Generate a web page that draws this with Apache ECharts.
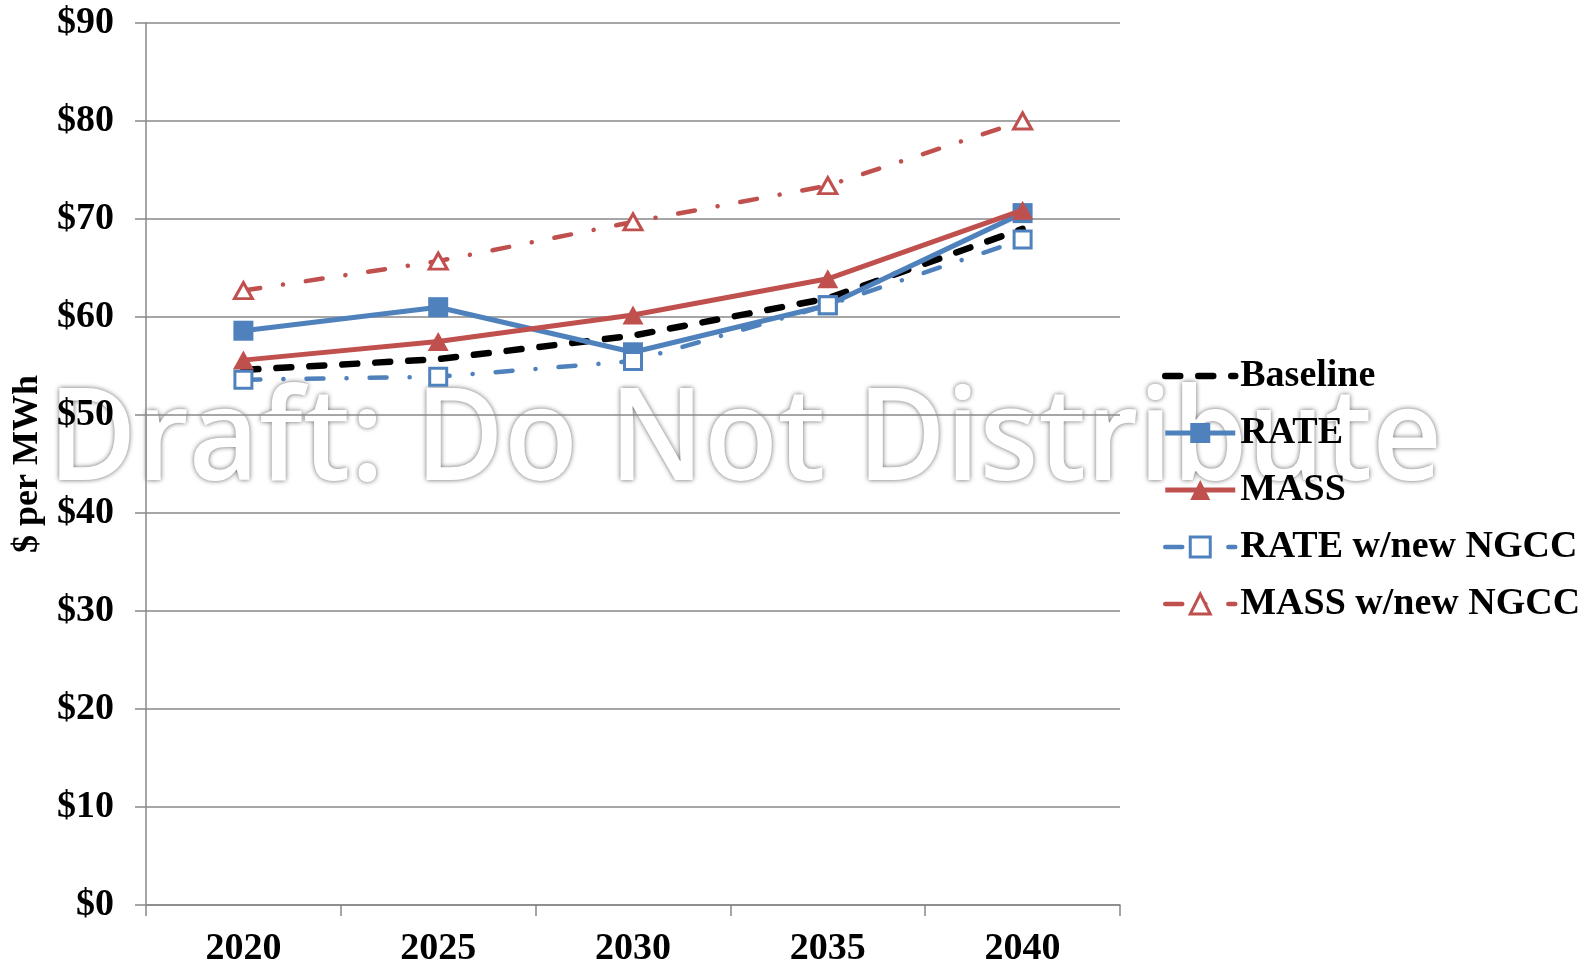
<!DOCTYPE html>
<html>
<head>
<meta charset="utf-8">
<script src="https://cdn.jsdelivr.net/npm/echarts@6/dist/echarts.min.js"></script>
<style>
  html, body { margin: 0; padding: 0; background: #fff; }
  #chart { width: 1590px; height: 964px; }
</style>
</head>
<body>
<div id="chart"></div>
<script>
const years = ['2020', '2025', '2030', '2035', '2040']
const baseline = [54.6, 55.7, 58.1, 61.9, 69.0]
const rate = [58.6, 61.0, 56.4, 61.2, 70.6]
const mass = [55.6, 57.5, 60.2, 63.9, 70.9]
const rateNgcc = [53.6, 53.9, 55.5, 61.2, 67.9]
const massNgcc = [62.7, 65.7, 69.7, 73.4, 80.0]

const BLUE = '#4F81BD'
const RED = '#C0504D'
const SERIF = '"Liberation Serif", "Times New Roman", serif'
const dashDot = [17, 23, 0.1, 23]

const chart = echarts.init(document.getElementById('chart'))

const option = {
  backgroundColor: '#fff',
  animation: false,
  grid: {
    left: 146,
    top: 23,
    right: 470,
    bottom: 59,
    outerBoundsMode: 'none',
    containLabel: false
  },
  legend: {
    orient: 'vertical',
    left: 1157,
    top: 352,
    itemWidth: 70,
    itemHeight: 25,
    itemGap: 19,
    textStyle: {
      fontFamily: SERIF,
      fontWeight: 'bold',
      fontSize: 38,
      lineHeight: 38,
      color: '#000'
    },
    lineStyle: { width: 'inherit' },
    itemStyle: { borderWidth: 'inherit' },
    data: [
      { name: 'Baseline', itemStyle: { opacity: 0 } },
      'RATE', 'MASS', 'RATE w/new NGCC', 'MASS w/new NGCC'
    ]
  },
  xAxis: {
    type: 'category',
    data: years,
    boundaryGap: true,
    axisLine: { lineStyle: { color: '#888', width: 1.5 } },
    axisTick: { show: true, length: 11, lineStyle: { color: '#888', width: 1.5 } },
    axisLabel: {
      margin: 25,
      fontFamily: SERIF,
      fontWeight: 'bold',
      fontSize: 38,
      color: '#000'
    },
    splitLine: { show: false }
  },
  yAxis: {
    type: 'value',
    min: 0,
    max: 90,
    interval: 10,
    name: '$ per MWh',
    nameLocation: 'middle',
    nameRotate: 90,
    nameGap: 98,
    nameTextStyle: {
      fontFamily: SERIF,
      fontWeight: 'bold',
      fontSize: 36,
      color: '#000'
    },
    axisLine: { show: true, lineStyle: { color: '#888', width: 1.5 } },
    axisTick: { show: true, length: 11, lineStyle: { color: '#888', width: 1.5 } },
    axisLabel: {
      margin: 32,
      fontFamily: SERIF,
      fontWeight: 'bold',
      fontSize: 38,
      color: '#000',
      formatter: v => '$' + v
    },
    splitLine: { lineStyle: { color: '#888', width: 1.5 } }
  },
  series: [
    {
      name: 'Baseline',
      type: 'line',
      data: baseline,
      symbol: 'none',
      itemStyle: { color: '#000' },
      lineStyle: { color: '#000', width: 6.5, type: [15, 18], cap: 'round' },
      z: 2
    },
    {
      name: 'RATE',
      type: 'line',
      data: rate,
      symbol: 'rect',
      symbolSize: 20,
      itemStyle: { color: BLUE },
      lineStyle: { color: BLUE, width: 5 },
      z: 3
    },
    {
      name: 'MASS',
      type: 'line',
      data: mass,
      symbol: 'triangle',
      symbolSize: [21, 19],
      itemStyle: { color: RED },
      lineStyle: { color: RED, width: 5 },
      z: 4
    },
    {
      name: 'RATE w/new NGCC',
      type: 'line',
      data: rateNgcc,
      symbol: 'rect',
      symbolSize: 17,
      itemStyle: { color: '#fff', borderColor: BLUE, borderWidth: 3 },
      lineStyle: { color: BLUE, width: 4.5, type: dashDot, cap: 'round' },
      z: 5
    },
    {
      name: 'MASS w/new NGCC',
      type: 'line',
      data: massNgcc,
      symbol: 'triangle',
      symbolSize: [18, 16],
      itemStyle: { color: '#fff', borderColor: RED, borderWidth: 3 },
      lineStyle: { color: RED, width: 4.5, type: dashDot, cap: 'round' },
      z: 6
    }
  ],
  graphic: [
    {
      type: 'text',
      z: -10,
      x: 745,
      y: 443,
      scaleY: 1.06,
      style: {
        text: 'Draft: Do Not Distribute',
        fontFamily: '"Open Sans", sans-serif',
        fontWeight: 600,
        fontSize: 121,
        fill: '#fff',
        align: 'center',
        verticalAlign: 'middle',
        textShadowColor: 'rgba(0, 0, 0, 0.6)',
        textShadowBlur: 5
      }
    }
  ]
}

chart.setOption(option)
</script>
</body>
</html>
